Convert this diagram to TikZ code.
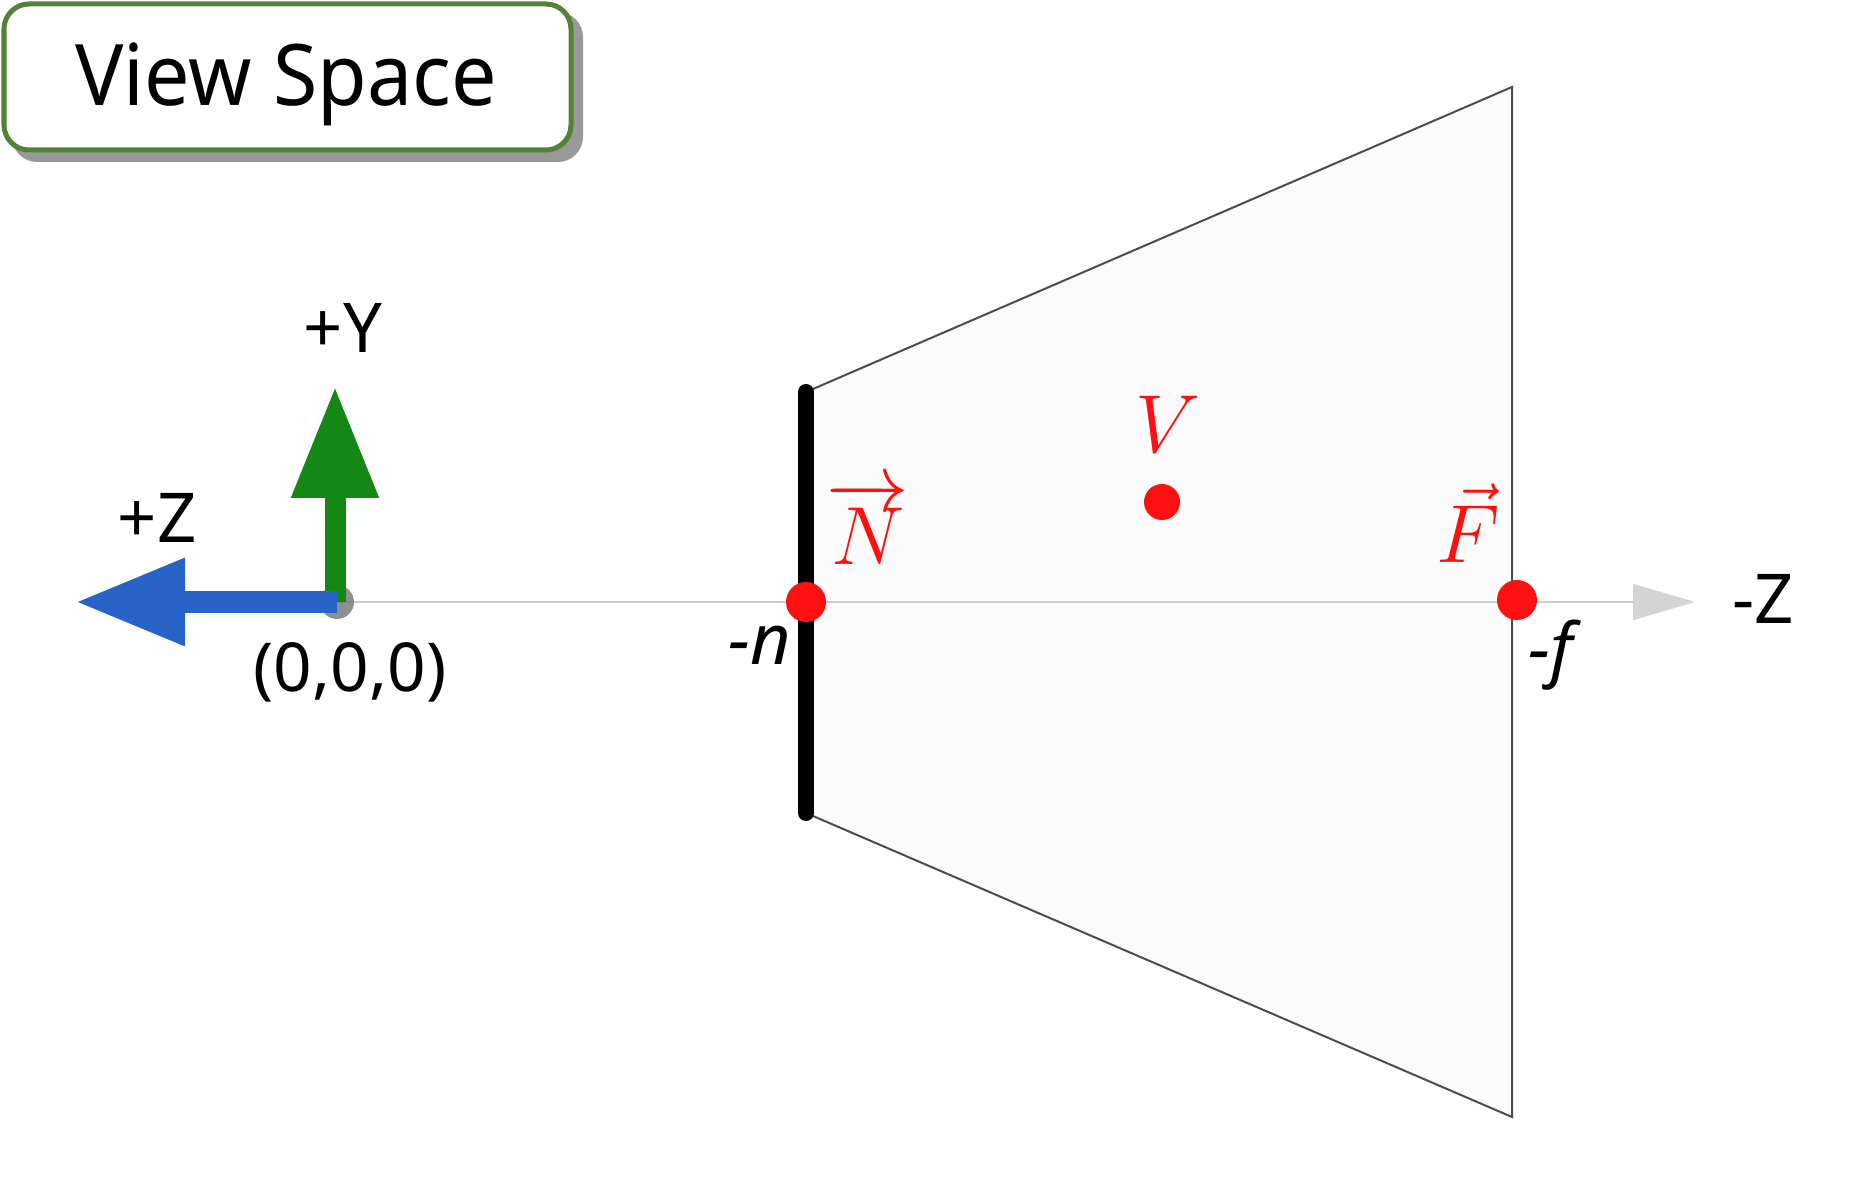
\documentclass[tikz,border=0pt]{standalone}
\usepackage{fix-cm}
\usepackage{fontspec}
\setmainfont{Noto Sans}
\newfontfamily\titlefont[FakeStretch=0.95]{Noto Sans}
\usetikzlibrary{arrows.meta}
\definecolor{boxgreen}{RGB}{84,130,53}
\definecolor{axblue}{RGB}{40,100,200}
\definecolor{axgreen}{RGB}{20,135,20}
\definecolor{dotred}{RGB}{255,16,16}
\tikzset{
  lbl/.style={inner sep=0pt, font=\fontsize{27.5}{30}\selectfont},
  mlbl/.style={inner sep=0pt, anchor=base, text=dotred, font=\fontsize{33}{35}\selectfont},
  dot/.style={fill=dotred},
}
\begin{document}
\begin{tikzpicture}[x=0.4pt,y=-0.4pt]
\useasboundingbox (0,0) rectangle (1874,1197);
% title box
\fill[black!40, rounded corners=10pt] (12,12) rectangle (583,162);
\draw[boxgreen, line width=2pt, fill=white, rounded corners=10pt] (4,4) rectangle (571,150);
\node[inner sep=0pt, anchor=base, font=\titlefont\fontsize{34}{36}\selectfont] (title) at (286,106) {View Space};
% frustum
\coordinate (nt) at (806,392);
\coordinate (nb) at (806,813);
\coordinate (ft) at (1512,87);
\coordinate (fb) at (1512,1117);
\filldraw[fill=black!1.5, draw=black!70, line width=0.8pt] (nt) -- (ft) -- (fb) -- (nb) -- cycle;
% axis
\coordinate (O) at (337,602);
\coordinate (zend) at (1695,602);
\draw[black!20, line width=0.6pt, -{Triangle[length=24.8pt,width=14.4pt,fill=black!17,color=black!17]}] (O) -- (zend);
% near plane
\draw[black, line width=6.4pt, line cap=round] (nt) -- (nb);
% origin
\fill[black!55, opacity=0.8] (O) circle[radius=17];
\coordinate (ytip) at (335,386);
\coordinate (ztip) at (75,602);
\draw[axgreen, line width=8.4pt, -{Triangle[length=44.8pt,width=32.8pt]}] (335,602) -- (ytip);
\draw[axblue, line width=8.8pt, -{Triangle[length=44pt,width=32.8pt]}] (O) -- (ztip);
% labels
\node[lbl] (ylbl) at (343,328) {+Y};
\node[lbl] (zlbl) at (157,518) {+Z};
\node[lbl, font=\fontsize{27}{30}\selectfont] (olbl) at (350,672) {(0,0,0)};
\node[lbl] (mzlbl) at (1763,599) {-Z};
\node[lbl, font=\itshape\fontsize{28}{30}\selectfont] (nlbl) at (760,645) {-n};
\node[lbl, font=\itshape\fontsize{28}{30}\selectfont] (flbl) at (1551,655) {-f};
% points
\coordinate (N) at (806,602);
\coordinate (F) at (1517,600);
\coordinate (V) at (1162,502);
\fill[dot] (N) circle[radius=20];
\fill[dot] (F) circle[radius=20];
\fill[dot] (V) circle[radius=18];
\node[mlbl] (vlbl) at (1168,453) {$V$};
\node[mlbl] (nvec) at (868,565) {$\overrightarrow{N}$};
\node[mlbl] (fvec) at (1468,563) {$\vec{F}$};
\end{tikzpicture}
\end{document}
